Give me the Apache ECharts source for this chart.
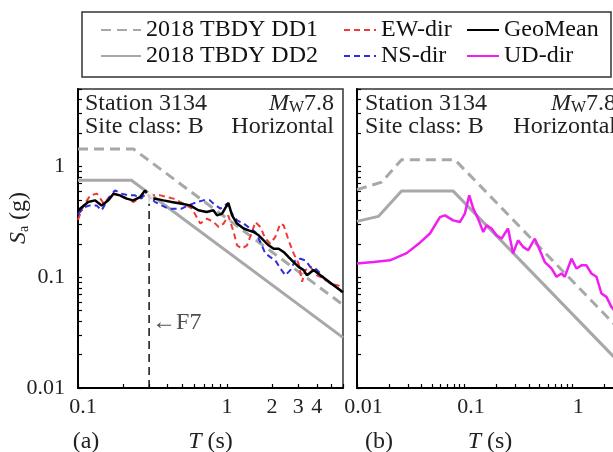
<!DOCTYPE html>
<html><head><meta charset="utf-8">
<script src="https://cdn.jsdelivr.net/npm/echarts@6/dist/echarts.min.js"></script>
<style>html,body{margin:0;padding:0;background:#fff}#chart{width:613px;height:452px}</style>
</head><body><div id="chart"></div>
<script>
const SERIF = '"Liberation Serif", "DejaVu Serif", serif';

// TBDY 2018 horizontal design spectra, corner points [T (s), Sa (g)]
const dd1Horizontal = [[0.1, 1.44], [0.235, 1.44], [6, 0.0564]];
const dd2Horizontal = [[0.1, 0.75], [0.228, 0.75], [6, 0.0285]];
// TBDY 2018 vertical design spectra
const dd1Vertical = [[0.01, 0.617], [0.017, 0.722], [0.026, 1.148], [0.0816, 1.148], [3, 0.0312]];
const dd2Vertical = [[0.01, 0.319], [0.0158, 0.354], [0.026, 0.599], [0.0787, 0.599], [3, 0.0157]];

// Station 3134 response spectra
const ewDir = [[0.1,0.33],[0.109,0.445],[0.121,0.548],[0.134,0.568],[0.149,0.461],[0.169,0.568],[0.187,0.548],[0.213,0.512],[0.236,0.477],[0.262,0.529],[0.29,0.548],[0.322,0.548],[0.357,0.548],[0.396,0.529],[0.438,0.512],[0.512,0.461],[0.582,0.416],[0.662,0.305],[0.734,0.338],[0.813,0.315],[0.879,0.284],[0.949,0.305],[1.02,0.36],[1.107,0.256],[1.167,0.194],[1.261,0.181],[1.362,0.194],[1.471,0.256],[1.549,0.315],[1.673,0.284],[1.807,0.223],[1.953,0.201],[2.109,0.231],[2.279,0.305],[2.399,0.294],[2.59,0.215],[2.798,0.164],[3.02,0.133],[3.19,0.0908],[3.35,0.116],[3.62,0.124],[4.02,0.104],[4.45,0.0973],[4.94,0.0877],[5.47,0.0847],[6,0.0818]];
const nsDir = [[0.1,0.37],[0.111,0.43],[0.12,0.445],[0.133,0.445],[0.144,0.402],[0.16,0.512],[0.177,0.608],[0.196,0.568],[0.218,0.548],[0.241,0.548],[0.267,0.512],[0.282,0.587],[0.329,0.477],[0.364,0.445],[0.404,0.416],[0.448,0.416],[0.496,0.416],[0.55,0.445],[0.625,0.477],[0.693,0.494],[0.769,0.494],[0.813,0.461],[0.902,0.416],[1.0,0.461],[1.08,0.375],[1.167,0.326],[1.292,0.305],[1.433,0.275],[1.549,0.256],[1.673,0.208],[1.807,0.164],[1.953,0.152],[2.109,0.142],[2.279,0.12],[2.462,0.104],[2.661,0.116],[2.873,0.142],[3.103,0.147],[3.35,0.142],[3.62,0.124],[3.91,0.12],[4.23,0.108],[4.69,0.0908],[5.19,0.0847],[5.76,0.0763],[6,0.0703]];
const geoMean = [[0.1,0.40],[0.117,0.477],[0.13,0.494],[0.144,0.445],[0.16,0.494],[0.173,0.568],[0.191,0.548],[0.212,0.512],[0.235,0.494],[0.261,0.529],[0.282,0.608],[0.304,0.52],[0.329,0.512],[0.374,0.494],[0.425,0.477],[0.496,0.461],[0.565,0.445],[0.642,0.402],[0.73,0.388],[0.809,0.402],[0.857,0.362],[0.926,0.375],[1.02,0.47],[1.081,0.362],[1.167,0.305],[1.292,0.275],[1.396,0.265],[1.509,0.256],[1.63,0.239],[1.761,0.215],[1.902,0.194],[2.055,0.181],[2.22,0.181],[2.398,0.169],[2.59,0.152],[2.798,0.137],[3.023,0.124],[3.266,0.116],[3.44,0.104],[3.81,0.116],[4.23,0.104],[4.69,0.094],[5.19,0.0847],[6,0.0733]];
const udDir = [[0.01,0.133],[0.0142,0.137],[0.0203,0.142],[0.029,0.165],[0.0385,0.205],[0.0478,0.248],[0.0592,0.349],[0.0659,0.362],[0.0787,0.326],[0.0908,0.315],[0.101,0.375],[0.111,0.548],[0.121,0.416],[0.134,0.338],[0.15,0.256],[0.161,0.294],[0.179,0.275],[0.199,0.239],[0.222,0.223],[0.255,0.275],[0.284,0.164],[0.316,0.215],[0.352,0.188],[0.392,0.175],[0.453,0.223],[0.504,0.175],[0.561,0.137],[0.647,0.12],[0.721,0.101],[0.802,0.108],[0.861,0.101],[0.994,0.147],[1.106,0.12],[1.231,0.128],[1.37,0.128],[1.524,0.108],[1.698,0.101],[1.889,0.0713],[2.103,0.0665],[2.34,0.054],[2.5,0.05]];

// Fundamental period marker (F7)
const f7Period = 0.3;
const f7Sa = 0.52;
const f7LabelSa = 0.039;

// Axis ticks and labels
const xTicksA = [0.1,0.2,0.3,0.4,0.5,0.6,0.7,0.8,0.9,1,2,3,4,5,6];
const xLabelsA = ['0.1','1','2','3','4'];
const xTicksB = [0.01,0.02,0.03,0.04,0.05,0.06,0.07,0.08,0.09,0.1,0.2,0.3,0.4,0.5,0.6,0.7,0.8,0.9,1,2,3];
const xLabelsB = ['0.01','0.1','1'];
const yTicks = [0.01,0.02,0.03,0.04,0.05,0.06,0.07,0.08,0.09,0.1,0.2,0.3,0.4,0.5,0.6,0.7,0.8,0.9,1,2,3,4,5];
const yLabels = ['0.01','0.1','1'];

const GRAY = '#a8a8a8', RED = '#f03a3a', BLUE = '#2e2ee0', MAGENTA = '#f01ef0';
const FS = 24;

function labelText(labels, v) {
  return labels.find(l => Math.abs(Number(l) / v - 1) < 1e-6) || '';
}

function logAxis(opts) {
  return {
    type: 'log', logBase: 10, gridIndex: opts.grid, min: opts.min, max: opts.max,
    axisLine: { show: true, onZero: false, lineStyle: { color: '#000', width: 2 } },
    axisTick: { show: true, inside: true, length: 4, customValues: opts.ticks, lineStyle: { color: '#000', width: 1.2 } },
    axisLabel: {
      show: opts.showLabels !== false,
      customValues: opts.labels.map(Number),
      margin: opts.margin, padding: opts.padding || 0,
      fontFamily: SERIF, fontSize: 22, color: '#222',
      formatter: opts.formatter || (v => labelText(opts.labels, v)),
      rich: opts.rich
    },
    splitLine: { show: false },
    minorTick: { show: false },
    minorSplitLine: { show: false },
    name: opts.name, nameLocation: 'middle', nameGap: opts.nameGap,
    nameTextStyle: { fontFamily: SERIF, fontSize: FS, color: '#222',
      rich: { i: { fontFamily: SERIF, fontSize: FS, fontStyle: 'italic', color: '#222' } } }
  };
}

const line = (name, data, color, width, type, xi) => ({
  type: 'line', name, data, xAxisIndex: xi, yAxisIndex: xi,
  symbol: 'none', smooth: false, silent: true, animation: false,
  lineStyle: { color, width, type }, itemStyle: { color }
});

// Legend entries show only the line sample
const legendCommon = {
  orient: 'vertical', top: 13, itemGap: 2, itemHeight: 14,
  textStyle: { fontFamily: SERIF, fontSize: FS, color: '#111' },
  itemStyle: { opacity: 0 },
  selectedMode: false
};

const txt = (x, y, text, align) => ({
  type: 'text', x, y, silent: true,
  style: { text, font: FS + 'px ' + SERIF, fill: '#222', textAlign: align || 'left', textVerticalAlign: 'middle' }
});
const mwRich = {
  i: { font: 'italic ' + FS + 'px ' + SERIF, fill: '#222' },
  s: { font: '16px ' + SERIF, fill: '#222', verticalAlign: 'bottom', lineHeight: FS },
  n: { font: FS + 'px ' + SERIF, fill: '#222' }
};

const chart = echarts.init(document.getElementById('chart'), null, { renderer: 'canvas' });
chart.setOption({
  backgroundColor: '#fff',
  animation: false,
  grid: [
    { left: 78, top: 89, width: 265, bottom: 64, outerBoundsMode: 'none', containLabel: false,
      show: true, borderColor: '#333', borderWidth: 1.5, backgroundColor: 'transparent' },
    { left: 357, top: 89, width: 266, bottom: 64, outerBoundsMode: 'none', containLabel: false,
      show: true, borderColor: '#333', borderWidth: 1.5, backgroundColor: 'transparent' }
  ],
  xAxis: [
    logAxis({ grid: 0, min: 0.1, max: 6, ticks: xTicksA, labels: xLabelsA, margin: 8,
      formatter: v => { const s = labelText(xLabelsA, v); return s === '0.1' ? '{m|' + s + '}' : s; },
      rich: { m: { fontFamily: SERIF, fontSize: 22, color: '#222', padding: [0, 0, 0, 10] } },
      name: '{i|T} (s)', nameGap: 42 }),
    logAxis({ grid: 1, min: 0.01, max: 3, ticks: xTicksB, labels: xLabelsB, margin: 8, padding: [0, 0, 0, 13],
      name: '{i|T} (s)', nameGap: 42 })
  ],
  yAxis: [
    logAxis({ grid: 0, min: 0.01, max: 5, ticks: yTicks, labels: yLabels, margin: 13 }),
    logAxis({ grid: 1, min: 0.01, max: 5, ticks: yTicks, labels: yLabels, margin: 13, showLabels: false })
  ],
  legend: [
    Object.assign({}, legendCommon, { left: 95, itemWidth: 40, data: ['2018 TBDY DD1', '2018 TBDY DD2'] }),
    Object.assign({}, legendCommon, { left: 338, itemWidth: 32, data: ['EW-dir', 'NS-dir'] }),
    Object.assign({}, legendCommon, { left: 461, itemWidth: 32, data: ['GeoMean', 'UD-dir'] })
  ],
  series: [
    line('2018 TBDY DD1', dd1Horizontal, GRAY, 3, [10, 6], 0),
    line('2018 TBDY DD2', dd2Horizontal, GRAY, 3, 'solid', 0),
    line('EW-dir', ewDir, RED, 2, [6, 4], 0),
    line('NS-dir', nsDir, BLUE, 2, [6, 4], 0),
    line('GeoMean', geoMean, '#000', 2.5, 'solid', 0),
    line('F7', [[f7Period, 0.01], [f7Period, f7Sa]], '#111', 1.5, [8, 5], 0),
    {
      type: 'scatter', name: 'F7 point', xAxisIndex: 0, yAxisIndex: 0, silent: true, z: 5,
      data: [[f7Period, f7Sa]], symbol: 'emptyCircle', symbolSize: [7, 10],
      itemStyle: { color: '#fff', borderColor: '#000', borderWidth: 1.5 }
    },
    {
      type: 'scatter', name: 'F7 label', xAxisIndex: 0, yAxisIndex: 0, silent: true,
      data: [[f7Period, f7LabelSa]], symbolSize: 0,
      label: { show: true, position: 'right', distance: 3, formatter: '\u2190F7',
        fontFamily: SERIF, fontSize: FS, color: '#222' }
    },
    line('2018 TBDY DD1', dd1Vertical, GRAY, 3, [10, 6], 1),
    line('2018 TBDY DD2', dd2Vertical, GRAY, 3, 'solid', 1),
    line('UD-dir', udDir, MAGENTA, 2.5, 'solid', 1)
  ],
  graphic: [
    { type: 'rect', shape: { x: 82, y: 12, width: 529, height: 65 }, style: { fill: 'none', stroke: '#333', lineWidth: 1.5 }, silent: true },
    // panel (a) annotations
    txt(85, 104, 'Station 3134'),
    txt(85, 127, 'Site class: B'),
    { type: 'text', x: 334, y: 104, silent: true, style: { text: '{i|M}{s|W}{n|7.8}', textAlign: 'right', textVerticalAlign: 'middle', rich: mwRich } },
    txt(334, 127, 'Horizontal', 'right'),
    // panel (b) annotations
    txt(365, 104, 'Station 3134'),
    txt(365, 127, 'Site class: B'),
    { type: 'text', x: 616, y: 104, silent: true, style: { text: '{i|M}{s|W}{n|7.8}', textAlign: 'right', textVerticalAlign: 'middle', rich: mwRich } },
    txt(616, 127, 'Horizontal', 'right'),
    // y-axis title
    { type: 'text', x: 19, y: 218, rotation: Math.PI / 2, silent: true,
      style: { text: '{i|S}{s|a} (g)', textAlign: 'center', textVerticalAlign: 'middle', font: FS + 'px ' + SERIF, fill: '#222',
        rich: { i: { font: 'italic ' + FS + 'px ' + SERIF, fill: '#222' }, s: { font: '14px ' + SERIF, fill: '#222', verticalAlign: 'bottom', lineHeight: FS } } } },
    // panel tags
    txt(86, 442, '(a)', 'center'),
    txt(379, 442, '(b)', 'center')
  ]
});
</script></body></html>
